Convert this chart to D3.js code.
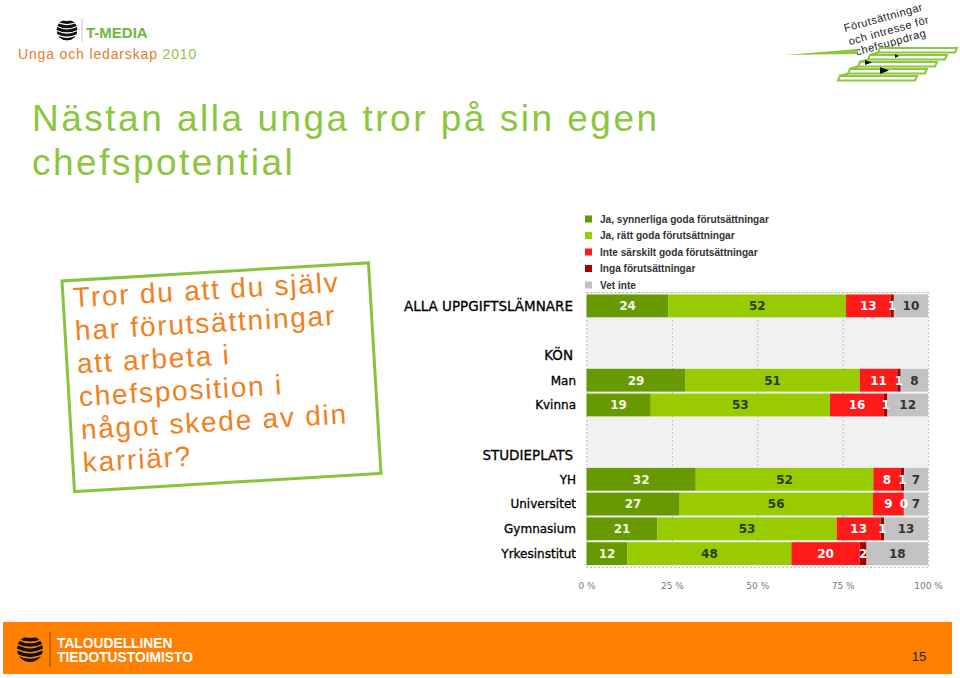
<!DOCTYPE html>
<html><head><meta charset="utf-8">
<script src="https://cdn.jsdelivr.net/npm/d3@7"></script>
<style>html,body{margin:0;padding:0;background:#fff;} svg{display:block}</style>
</head><body>
<svg id="c" width="960" height="678"></svg>
<script>
// ---------- DATA ----------
const categories = ["ALLA UPPGIFTSLÄMNARE","Man","Kvinna","YH","Universitet","Gymnasium","Yrkesinstitut"];
const groupHeaders = ["KÖN","STUDIEPLATS"];
const rowOrder = ["ALLA UPPGIFTSLÄMNARE","gap1","KÖN","Man","Kvinna","gap2","STUDIEPLATS","YH","Universitet","Gymnasium","Yrkesinstitut"];
const seriesNames = ["Ja, synnerliga goda förutsättningar","Ja, rätt goda förutsättningar","Inte särskilt goda förutsättningar","Inga förutsättningar","Vet inte"];
const jaSynnerliga = [24,29,19,32,27,21,12];
const jaRatt       = [52,51,53,52,56,53,48];
const inteSarskilt = [13,11,16,8,9,13,20];
const inga         = [1,1,1,1,0,1,2];
const vetInte      = [10,8,12,7,7,13,18];
const tickValues = [0,25,50,75,100];
const tickLabels = ["0 %","25 %","50 %","75 %","100 %"];
const questionLines = ["Tror du att du själv","har förutsättningar","att arbeta i","chefsposition i","något skede av din","karriär?"];
const titleLines = ["Nästan alla unga tror på sin egen","chefspotential"];

const seriesColors = ["#679a01","#99cc00","#ff1a1a","#a30000","#c2c2c2"];
const labelColors  = ["#f4f4e4","#2e3a10","#ffffff","#ffffff","#333333"];
const seriesValues = [jaSynnerliga, jaRatt, inteSarskilt, inga, vetInte];

const svg = d3.select("#c");
const defs = svg.append("defs");

function globe(g, cx, cy, r, color, id) {
  defs.append("clipPath").attr("id", id).append("circle").attr("cx", cx).attr("cy", cy).attr("r", r);
  const gg = g.append("g").attr("clip-path", `url(#${id})`);
  const n = 5;
  for (let i = 0; i < n; i++) {
    const y0 = cy - r + (i + 0.55) * (2 * r / n);
    gg.append("path")
      .attr("d", `M${cx - r},${y0 - r * 0.18} Q${cx},${y0 + r * 0.32} ${cx + r},${y0 - r * 0.18}`)
      .attr("stroke", color).attr("stroke-width", r * 0.27).attr("fill", "none");
  }
}

// ---------- HEADER LEFT ----------
globe(svg, 67, 30, 10.5, "#111", "g1");
svg.append("line").attr("x1", 82).attr("x2", 82).attr("y1", 18).attr("y2", 42).attr("stroke", "#c8c8c8");
svg.append("text").attr("x", 86).attr("y", 38).text("T-MEDIA")
  .attr("font-family", "Liberation Sans, Arial").attr("font-weight", "bold").attr("font-size", 15)
  .attr("fill", "#72b43e");
const sub = svg.append("text").attr("x", 18).attr("y", 59)
  .attr("font-family", "Liberation Sans, Arial").attr("font-size", 14).attr("letter-spacing", 0.85);
sub.append("tspan").attr("fill", "#e8792a").text("Unga och ledarskap ");
sub.append("tspan").attr("fill", "#8dc63f").text("2010");

// ---------- HEADER RIGHT (logo) ----------
const tr = svg.append("g").attr("transform", "translate(845,32) rotate(-15.5)")
  .attr("font-family", "Liberation Sans, Arial").attr("font-size", 11).attr("fill", "#222").attr("letter-spacing", 0.5);
tr.append("text").attr("x", 0).attr("y", 0).text("Förutsättningar");
tr.append("text").attr("x", 1).attr("y", 14).text("och intresse för");
tr.append("text").attr("x", 5).attr("y", 26).text("chefsuppdrag");
svg.append("polygon").attr("points", "785,55 857,49 857,54").attr("fill", "#8dc63f");
for (let k = 0; k < 5; k++) {
  const x0 = 880 - 10 * k, y0 = 48 + 7 * k;
  svg.append("polygon")
    .attr("points", `${x0},${y0} ${x0 + 77},${y0} ${x0 + 75},${y0 + 4.5} ${x0 - 2},${y0 + 4.5}`)
    .attr("fill", "#fff").attr("stroke", "#8dc63f").attr("stroke-width", 2);
  if (k > 0) svg.append("line").attr("x1", x0 - 1).attr("y1", y0).attr("x2", x0 + 8).attr("y2", y0 - 2.5)
    .attr("stroke", "#8dc63f").attr("stroke-width", 2);
}
svg.append("polygon").attr("points", "865,60 872,62.5 865,65").attr("fill", "#111");
svg.append("polygon").attr("points", "880,67 889,70.5 880,74").attr("fill", "#111");
svg.append("polygon").attr("points", "895,54 899,56 895,58").attr("fill", "#111");

// ---------- TITLE ----------
svg.selectAll("text.title").data(titleLines).enter().append("text")
  .attr("class", "title").attr("x", 32).attr("y", (d, i) => 131 + i * 44)
  .attr("font-family", "Liberation Sans, Arial").attr("font-size", 37).attr("letter-spacing", 2.5)
  .attr("fill", "#8cc63f").text(d => d);

// ---------- QUESTION BOX ----------
const qb = svg.append("g").attr("transform", "translate(62,281) rotate(-3.4)");
qb.append("rect").attr("x", 0).attr("y", 0).attr("width", 307).attr("height", 211)
  .attr("fill", "#fff").attr("stroke", "#86c440").attr("stroke-width", 3);
qb.selectAll("text").data(questionLines).enter().append("text")
  .attr("x", 10).attr("y", (d, i) => 27 + i * 33)
  .attr("font-family", "Liberation Sans, Arial").attr("font-size", 28).attr("letter-spacing", 1.8)
  .attr("fill", "#f08020").text(d => d);

// ---------- CHART ----------
const x = d3.scaleLinear().domain([0, 100]).range([586.5, 928]);
const y = d3.scaleBand().domain(rowOrder).range([294.5, 565]).paddingInner(0.08);
const plotTop = 292, plotBottom = 567;

svg.append("rect").attr("x", x(0)).attr("y", plotTop).attr("width", x(100) - x(0)).attr("height", plotBottom - plotTop)
  .attr("fill", "#f1f1f1");
svg.selectAll("line.grid").data(tickValues).enter().append("line")
  .attr("class", "grid").attr("x1", d => x(d) + 0.5).attr("x2", d => x(d) + 0.5)
  .attr("y1", plotTop).attr("y2", plotBottom)
  .attr("stroke", "#b4b4b4").attr("stroke-dasharray", "1.5,2.5");
svg.append("line").attr("x1", x(0)).attr("x2", x(100)).attr("y1", plotTop + 0.5).attr("y2", plotTop + 0.5)
  .attr("stroke", "#a9c46a").attr("stroke-dasharray", "1.5,2.5");
svg.append("line").attr("x1", x(0)).attr("x2", x(100)).attr("y1", plotBottom + 0.5).attr("y2", plotBottom + 0.5)
  .attr("stroke", "#b4b4b4").attr("stroke-dasharray", "1.5,2.5");

// stacked rows
const rows = categories.map((c, i) => {
  const vals = seriesValues.map(s => s[i]);
  const total = d3.sum(vals);
  let cum = 0;
  const segs = vals.map((v, k) => { const s = { k, v, x0: cum / total * 100, x1: (cum + v) / total * 100 }; cum += v; return s; });
  return { c, segs };
});
const rowG = svg.selectAll("g.row").data(rows).enter().append("g").attr("class", "row")
  .attr("transform", d => `translate(0,${y(d.c)})`);
rowG.selectAll("rect").data(d => d.segs).enter().append("rect")
  .attr("x", d => x(d.x0)).attr("width", d => x(d.x1) - x(d.x0))
  .attr("y", 0).attr("height", y.bandwidth()).attr("fill", d => seriesColors[d.k]);
rowG.selectAll("text").data(d => d.segs).enter().append("text")
  .attr("x", d => (x(d.x0) + x(d.x1)) / 2).attr("y", y.bandwidth() / 2 + 4.4)
  .attr("text-anchor", "middle").attr("font-family", "DejaVu Sans, Verdana").attr("font-weight", "bold")
  .attr("font-size", 12).attr("fill", d => labelColors[d.k]).text(d => d.v);

// category labels
svg.selectAll("text.cat").data(categories).enter().append("text").attr("class", "cat")
  .attr("x", (d, i) => i === 0 ? 573 : 576).attr("y", d => y(d) + y.bandwidth() / 2 + (d === categories[0] ? 5 : 4.3))
  .attr("text-anchor", "end").attr("font-family", "DejaVu Sans, Verdana")
  .attr("font-size", (d, i) => i === 0 ? 13.5 : 12).attr("fill", "#000")
  .attr("stroke", "#000").attr("stroke-width", 0.3).text(d => d);
svg.selectAll("text.hdr").data(groupHeaders).enter().append("text").attr("class", "hdr")
  .attr("x", 573).attr("y", d => y(d) + y.bandwidth() / 2 + 5)
  .attr("text-anchor", "end").attr("font-family", "DejaVu Sans, Verdana")
  .attr("font-size", 13.5).attr("fill", "#000").attr("stroke", "#000").attr("stroke-width", 0.3).text(d => d);

// axis
const axis = d3.axisBottom(x).tickValues(tickValues).tickFormat((d, i) => tickLabels[i]).tickSize(0).tickPadding(4);
const ax = svg.append("g").attr("transform", "translate(0,579)").call(axis);
ax.select(".domain").remove();
ax.selectAll("text").attr("font-family", "DejaVu Sans, Verdana").attr("font-size", 9).attr("fill", "#777");

// legend
const lg = svg.selectAll("g.lg").data(seriesNames).enter().append("g").attr("class", "lg")
  .attr("transform", (d, i) => `translate(585,${219 + i * 16.5})`);
lg.append("rect").attr("x", 0).attr("y", -3.5).attr("width", 7).attr("height", 7).attr("fill", (d, i) => seriesColors[i]);
lg.append("text").attr("x", 15).attr("y", 3.5).attr("font-family", "Liberation Sans, Arial").attr("font-weight", "bold")
  .attr("font-size", 10.1).attr("fill", "#333").text(d => d);

// ---------- FOOTER ----------
svg.append("rect").attr("x", 3).attr("y", 622).attr("width", 949).attr("height", 52).attr("fill", "#ff8000");
globe(svg, 30, 649, 13, "#111", "g2");
svg.append("line").attr("x1", 50).attr("x2", 50).attr("y1", 632).attr("y2", 667).attr("stroke", "#8a4500");
svg.append("text").attr("x", 57).attr("y", 648).text("TALOUDELLINEN")
  .attr("font-family", "Liberation Sans, Arial").attr("font-weight", "bold").attr("font-size", 13.8).attr("fill", "#fff");
svg.append("text").attr("x", 57).attr("y", 662).text("TIEDOTUSTOIMISTO")
  .attr("font-family", "Liberation Sans, Arial").attr("font-weight", "bold").attr("font-size", 13.8).attr("fill", "#fff");
svg.append("text").attr("x", 919).attr("y", 661).attr("text-anchor", "middle").text("15")
  .attr("font-family", "Liberation Sans, Arial").attr("font-size", 13).attr("fill", "#222");
</script>
</body></html>
